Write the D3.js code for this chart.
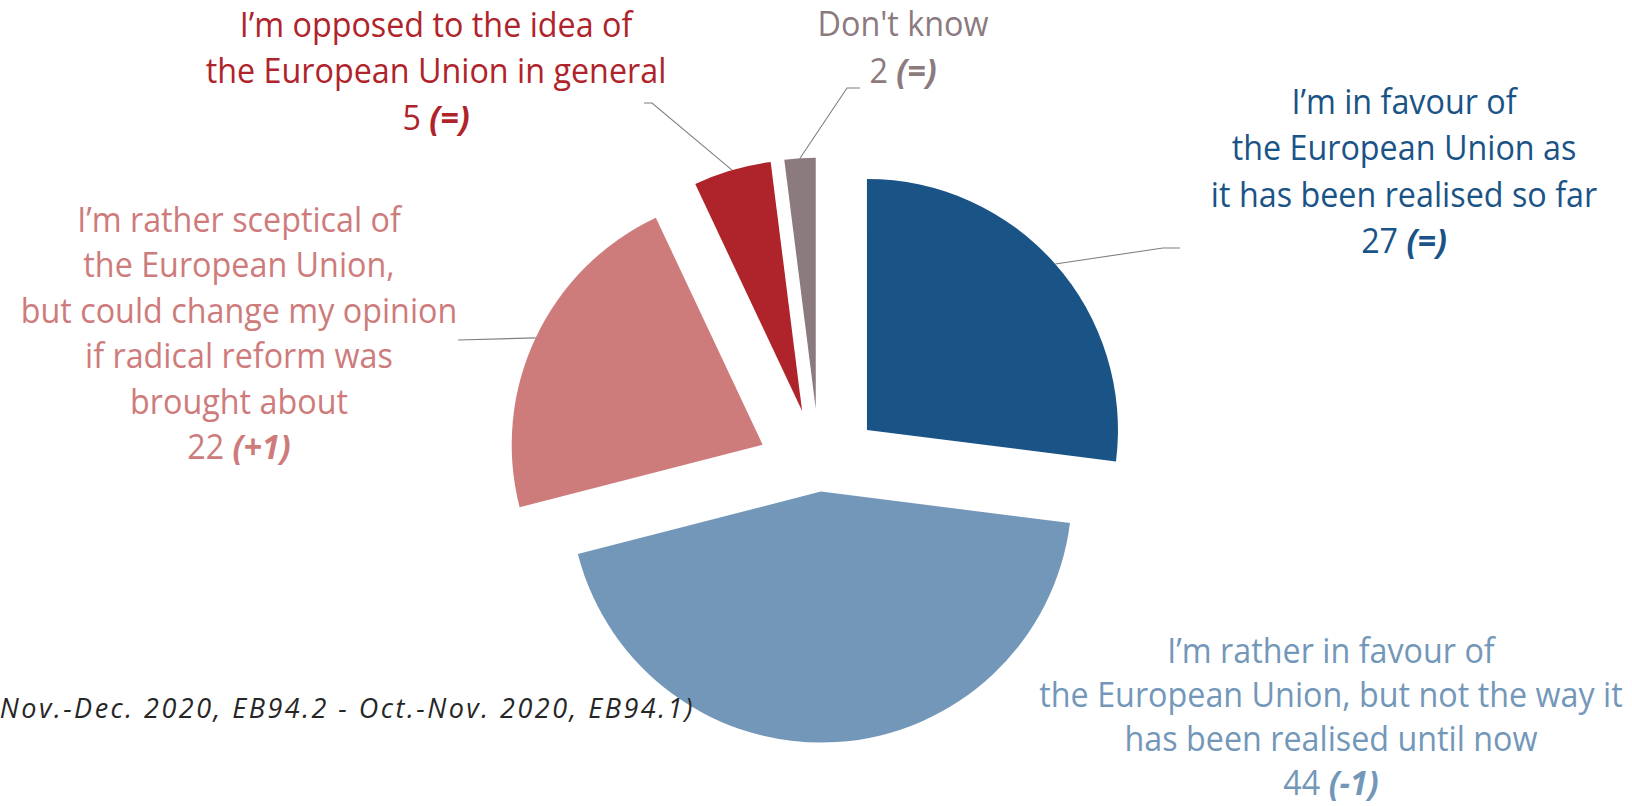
<!DOCTYPE html>
<html><head><meta charset="utf-8">
<script src="https://cdn.jsdelivr.net/npm/d3@7"></script>
<style>body{margin:0;background:#fff} svg{display:block}</style>
</head><body>
<svg id="c" width="1632" height="806"></svg>
<script>
// ---------- data ----------
const categories = [
  "I’m in favour of the European Union as it has been realised so far",
  "I’m rather in favour of the European Union, but not the way it has been realised until now",
  "I’m rather sceptical of the European Union, but could change my opinion if radical reform was brought about",
  "I’m opposed to the idea of the European Union in general",
  "Don't know"
];
const labelLines = [
  ["I’m in favour of", "the European Union as", "it has been realised so far"],
  ["I’m rather in favour of", "the European Union, but not the way it", "has been realised until now"],
  ["I’m rather sceptical of", "the European Union,", "but could change my opinion", "if radical reform was", "brought about"],
  ["I’m opposed to the idea of", "the European Union in general"],
  ["Don't know"]
];
const values  = [27, 44, 22, 5, 2];
const changes = ["=", "-1", "+1", "=", "="];
const footnote = "(Nov.-Dec. 2020, EB94.2 - Oct.-Nov. 2020, EB94.1)";

// ---------- style / layout ----------
const colors = ["#1A5386", "#7397B9", "#CE7B7C", "#AF232A", "#8B7A7E"];
const explode = [63, 20, 63, 63, 63];
const cx = 819.7, cy = 471.6, R = 251;
const fontSize = 34, sx = 0.95;
// label block: centre x, first baseline, line step, leader elbow + stub end (null = none)
const labelLayout = [
  {x: 1404, y: 114, step: 46.5, elbow: [1163, 248], stub: [1180, 248]},
  {x: 1331, y: 663, step: 44,   elbow: null, stub: null},
  {x: 239,  y: 232, step: 45.5, elbow: [458, 340], stub: null},
  {x: 436,  y: 37,  step: 46.5, elbow: [652, 103], stub: [644, 103]},
  {x: 903,  y: 36,  step: 47,   elbow: [847, 88],  stub: [860, 88]}
];

const svg = d3.select("#c");
const pie = d3.pie().sort(null).value(d => d)(values);
const arc = d3.arc().innerRadius(0).outerRadius(R);

const g = svg.append("g").attr("transform", `translate(${cx},${cy})`);
g.selectAll("path.slice").data(pie).join("path")
  .attr("class", "slice")
  .attr("d", arc)
  .attr("fill", (d, i) => colors[i])
  .attr("transform", (d, i) => {
    const m = (d.startAngle + d.endAngle) / 2;
    return `translate(${Math.sin(m) * explode[i]},${-Math.cos(m) * explode[i]})`;
  });

// leader lines
pie.forEach((d, i) => {
  const L = labelLayout[i];
  if (!L.elbow) return;
  const m = (d.startAngle + d.endAngle) / 2;
  const ox = cx + Math.sin(m) * (explode[i] + R);
  const oy = cy - Math.cos(m) * (explode[i] + R);
  const pts = [[ox, oy], L.elbow];
  if (L.stub) pts.push(L.stub);
  svg.append("path")
    .attr("d", d3.line()(pts))
    .attr("fill", "none")
    .attr("stroke", "#7F7F7F")
    .attr("stroke-width", 1.1);
});

// labels
pie.forEach((d, i) => {
  const L = labelLayout[i];
  const t = svg.append("text")
    .attr("text-anchor", "middle")
    .attr("font-family", "'Open Sans', 'Noto Sans', sans-serif")
    .attr("font-size", fontSize)
    .attr("fill", colors[i])
    .attr("transform", `translate(${L.x},0) scale(${sx},1)`);
  const lines = labelLines[i];
  lines.forEach((ln, k) => {
    t.append("tspan").attr("x", 0).attr("y", L.y + k * L.step).text(ln);
  });
  const vl = t.append("tspan").attr("x", 0).attr("y", L.y + lines.length * L.step);
  vl.append("tspan").text(values[i] + " ");
  vl.append("tspan").attr("font-weight", "bold").attr("font-style", "italic")
    .text("(" + changes[i] + ")");
});

// footnote (partly off the left edge, as in the source)
svg.append("text")
  .attr("x", 695).attr("y", 718)
  .attr("text-anchor", "end")
  .attr("font-family", "'Open Sans', 'Noto Sans', sans-serif")
  .attr("font-style", "italic")
  .attr("font-size", 27)
  .attr("letter-spacing", 2.5)
  .attr("fill", "#262626")
  .text(footnote);
</script>
</body></html>
